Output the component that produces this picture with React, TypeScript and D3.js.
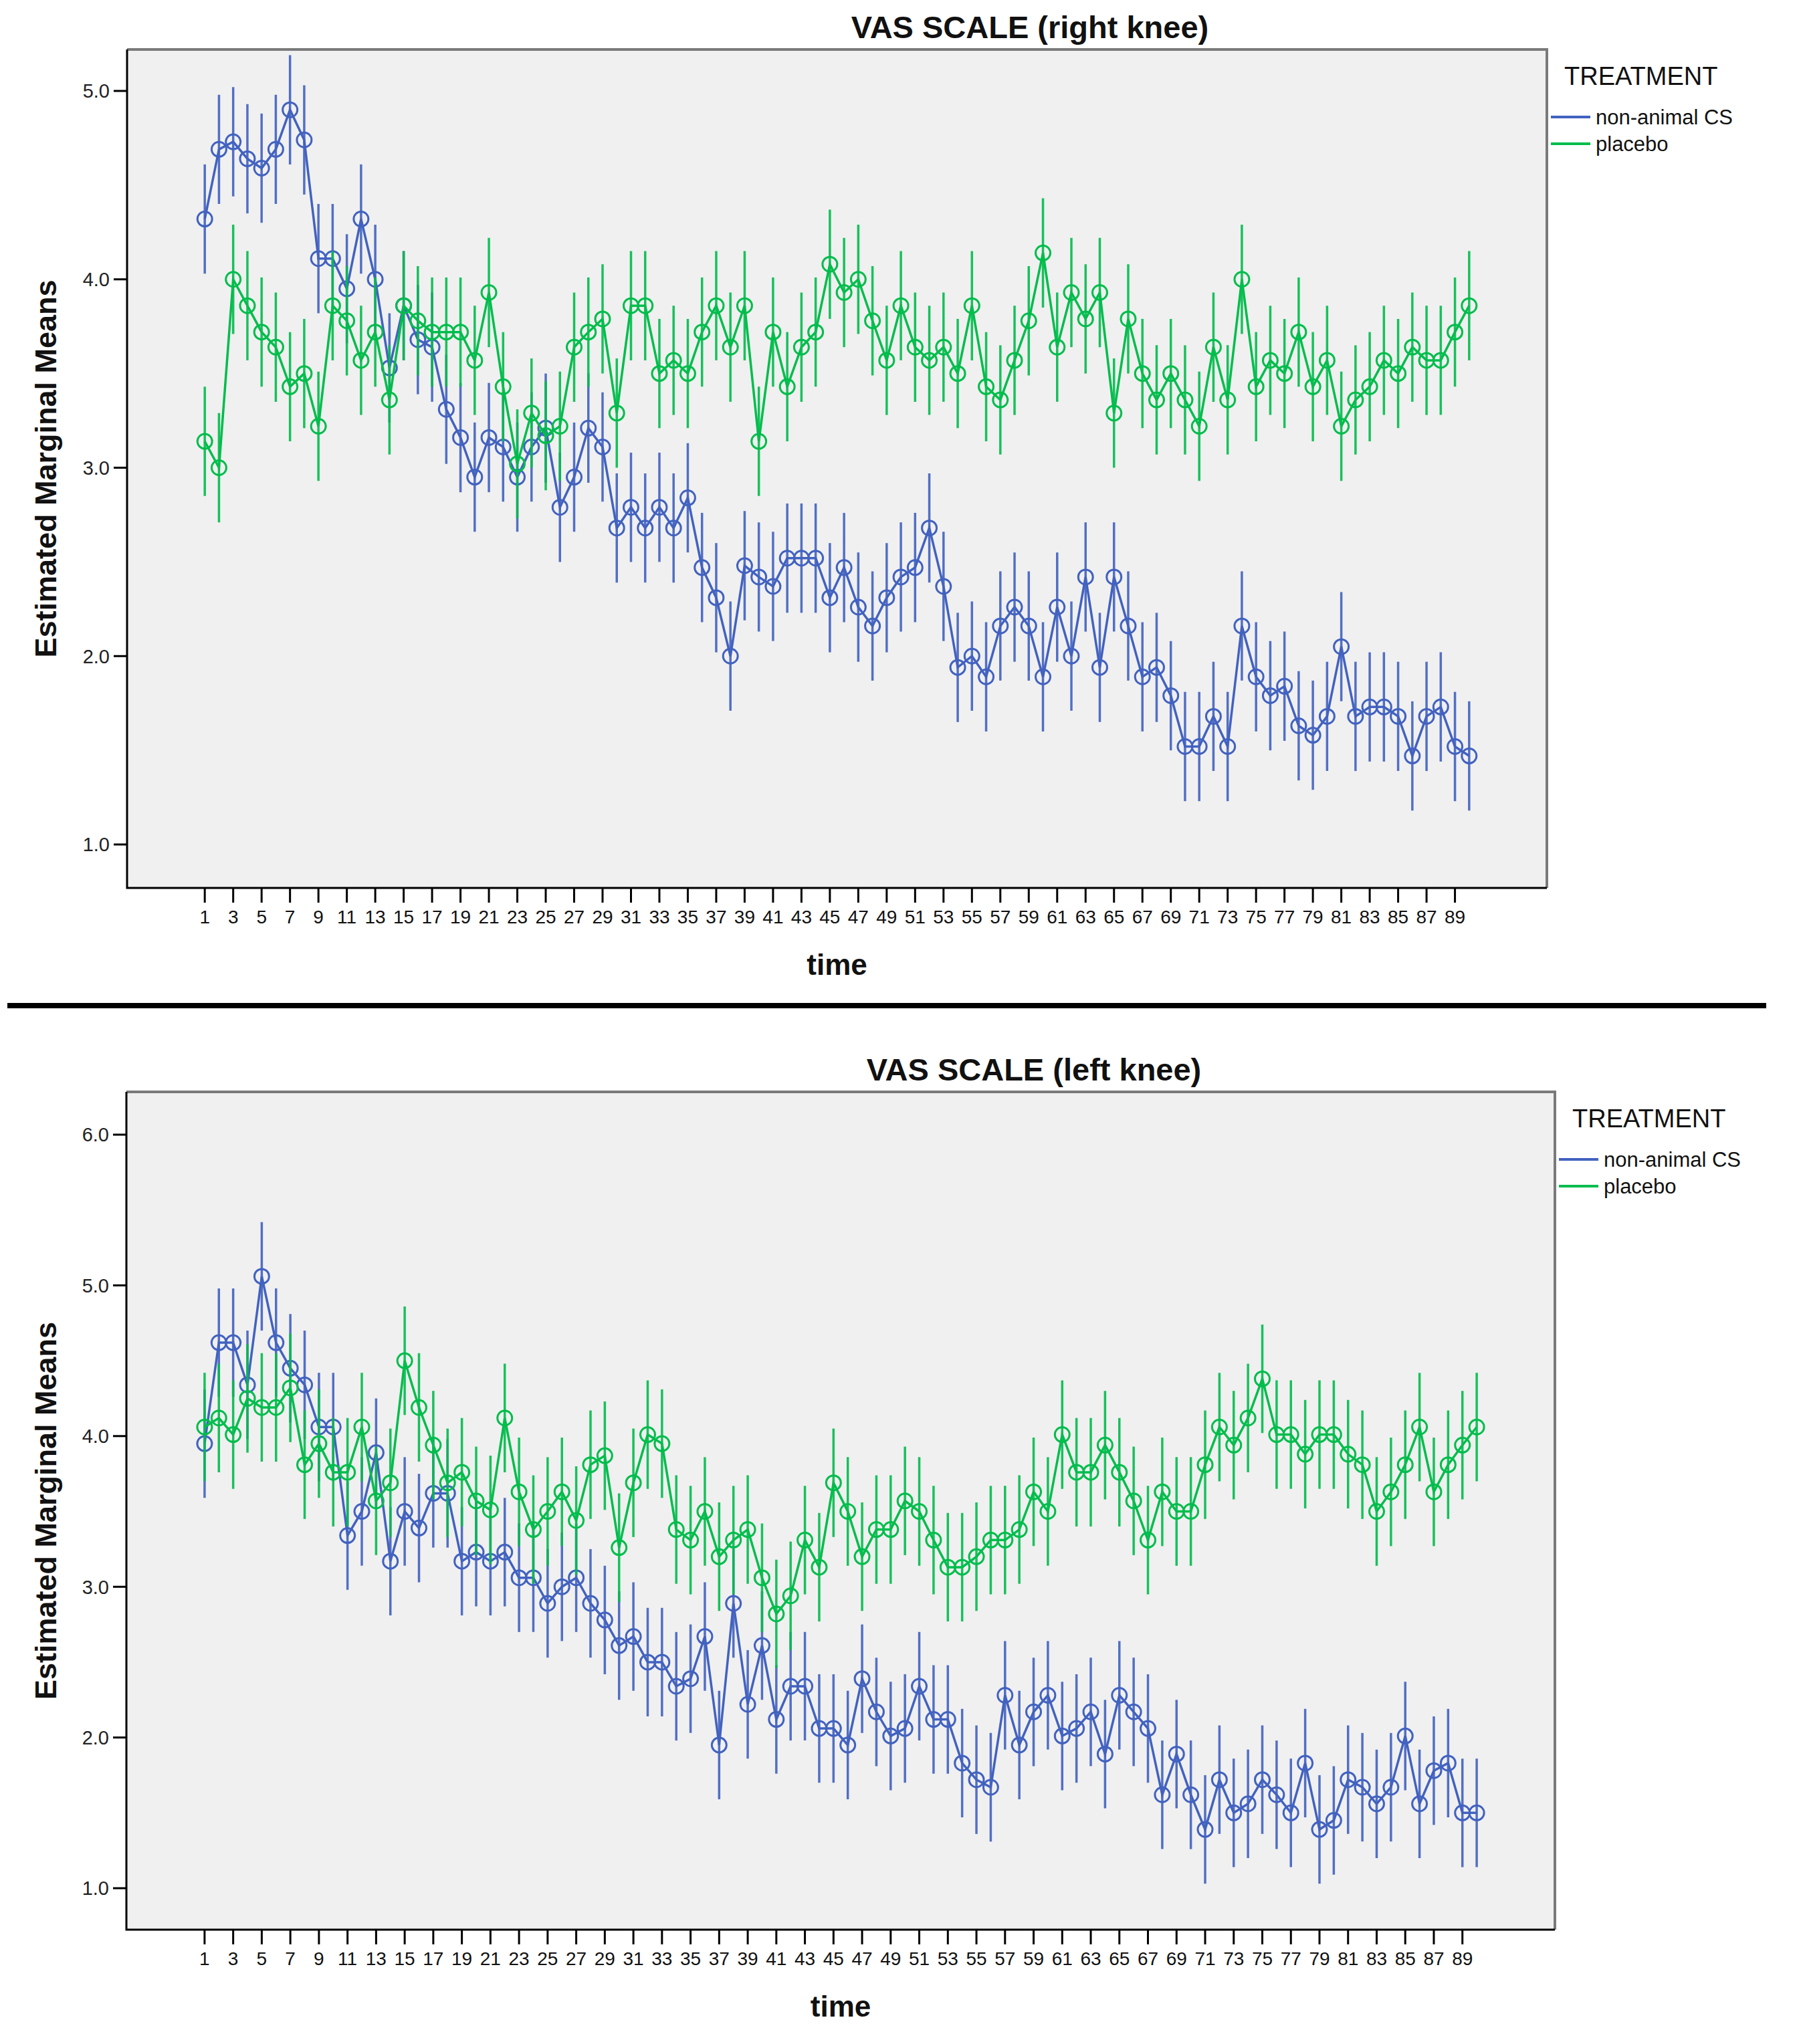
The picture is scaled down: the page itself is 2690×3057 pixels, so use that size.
import React, { useEffect, useRef } from 'react';
import * as d3 from 'd3';

// time categories 1..90, odd ones are labelled on the axis
const timePoints = d3.range(1, 91);
const xTickLabels = timePoints.filter(t => t % 2 === 1);
const treatments = ['non-animal CS', 'placebo'];

// VAS right knee, estimated marginal means
const rightKneeCS = [
  4.32, 4.69, 4.73, 4.64, 4.59, 4.69, 4.90, 4.74, 4.11, 4.11,
  3.95, 4.32, 4.00, 3.53, 3.86, 3.68, 3.64, 3.31, 3.16, 2.95,
  3.16, 3.11, 2.95, 3.11, 3.21, 2.79, 2.95, 3.21, 3.11, 2.68,
  2.79, 2.68, 2.79, 2.68, 2.84, 2.47, 2.31, 2.00, 2.48, 2.42,
  2.37, 2.52, 2.52, 2.52, 2.31, 2.47, 2.26, 2.16, 2.31, 2.42,
  2.47, 2.68, 2.37, 1.94, 2.00, 1.89, 2.16, 2.26, 2.16, 1.89,
  2.26, 2.00, 2.42, 1.94, 2.42, 2.16, 1.89, 1.94, 1.79, 1.52,
  1.52, 1.68, 1.52, 2.16, 1.89, 1.79, 1.84, 1.63, 1.58, 1.68,
  2.05, 1.68, 1.73, 1.73, 1.68, 1.47, 1.68, 1.73, 1.52, 1.47,
];
const rightKneePlacebo = [
  3.14, 3.00, 4.00, 3.86, 3.72, 3.64, 3.43, 3.50, 3.22, 3.86,
  3.78, 3.57, 3.72, 3.36, 3.86, 3.78, 3.72, 3.72, 3.72, 3.57,
  3.93, 3.43, 3.02, 3.29, 3.17, 3.22, 3.64, 3.72, 3.79, 3.29,
  3.86, 3.86, 3.50, 3.57, 3.50, 3.72, 3.86, 3.64, 3.86, 3.14,
  3.72, 3.43, 3.64, 3.72, 4.08, 3.93, 4.00, 3.78, 3.57, 3.86,
  3.64, 3.57, 3.64, 3.50, 3.86, 3.43, 3.36, 3.57, 3.78, 4.14,
  3.64, 3.93, 3.79, 3.93, 3.29, 3.79, 3.50, 3.36, 3.50, 3.36,
  3.22, 3.64, 3.36, 4.00, 3.43, 3.57, 3.50, 3.72, 3.43, 3.57,
  3.22, 3.36, 3.43, 3.57, 3.50, 3.64, 3.57, 3.57, 3.72, 3.86,
];

// VAS left knee, estimated marginal means
const leftKneeCS = [
  3.95, 4.62, 4.62, 4.34, 5.06, 4.62, 4.45, 4.34, 4.06, 4.06,
  3.34, 3.50, 3.89, 3.17, 3.50, 3.39, 3.62, 3.62, 3.17, 3.23,
  3.17, 3.23, 3.06, 3.06, 2.89, 3.00, 3.06, 2.89, 2.78, 2.61,
  2.67, 2.50, 2.50, 2.34, 2.39, 2.67, 1.95, 2.89, 2.22, 2.61,
  2.12, 2.34, 2.34, 2.06, 2.06, 1.95, 2.39, 2.17, 2.01, 2.06,
  2.34, 2.12, 2.12, 1.83, 1.72, 1.67, 2.28, 1.95, 2.17, 2.28,
  2.01, 2.06, 2.17, 1.89, 2.28, 2.17, 2.06, 1.62, 1.89, 1.62,
  1.39, 1.72, 1.50, 1.56, 1.72, 1.62, 1.50, 1.83, 1.39, 1.45,
  1.72, 1.67, 1.56, 1.67, 2.01, 1.56, 1.78, 1.83, 1.50, 1.50,
];
const leftKneePlacebo = [
  4.06, 4.12, 4.01, 4.25, 4.19, 4.19, 4.32, 3.81, 3.95, 3.76,
  3.76, 4.06, 3.57, 3.69, 4.50, 4.19, 3.94, 3.69, 3.76, 3.57,
  3.51, 4.12, 3.63, 3.38, 3.50, 3.63, 3.44, 3.81, 3.87, 3.26,
  3.69, 4.01, 3.95, 3.38, 3.31, 3.50, 3.20, 3.31, 3.38, 3.06,
  2.82, 2.94, 3.31, 3.13, 3.69, 3.50, 3.20, 3.38, 3.38, 3.57,
  3.50, 3.31, 3.13, 3.13, 3.20, 3.31, 3.31, 3.38, 3.63, 3.50,
  4.01, 3.76, 3.76, 3.94, 3.76, 3.57, 3.31, 3.63, 3.50, 3.50,
  3.81, 4.06, 3.94, 4.12, 4.38, 4.01, 4.01, 3.88, 4.01, 4.01,
  3.88, 3.81, 3.50, 3.63, 3.81, 4.06, 3.63, 3.81, 3.94, 4.06,
];

const rightKneeTicks = [1, 2, 3, 4, 5];
const leftKneeTicks = [1, 2, 3, 4, 5, 6];
// half width of the error bars (95% CI)
const rightKneeCI = 0.29;
const leftKneeCI = 0.36;

const BLUE = '#4262c0';
const GREEN = '#00bd4c';
const FONT = '"Liberation Sans", Arial, sans-serif';

interface PanelConfig {
  title: string;
  titleX: number;
  series: number[][];
  ci: number;
  ticks: number[];
  left: number;
  top: number;
  right: number;
  bottom: number;
  yLow: number; // pixel of lowest tick
  yHigh: number; // pixel of highest tick
}

const drawPanel = (
  svg: d3.Selection<SVGSVGElement, unknown, null, undefined>,
  cfg: PanelConfig
) => {
  const { left, top, right, bottom } = cfg;
  const g = svg.append('g');
  const colors = [BLUE, GREEN];

  const x = d3.scalePoint<number>().domain(timePoints).range([left, right]).padding(5.47);
  const y = d3
    .scaleLinear()
    .domain([cfg.ticks[0], cfg.ticks[cfg.ticks.length - 1]])
    .range([cfg.yLow, cfg.yHigh]);

  // plot background
  g.append('rect')
    .attr('x', left)
    .attr('y', top)
    .attr('width', right - left)
    .attr('height', bottom - top)
    .attr('fill', '#f0f0f0');

  // frame: grey top/right, black left/bottom
  g.append('path')
    .attr('d', `M${left},${top}H${right}V${bottom}`)
    .attr('fill', 'none')
    .attr('stroke', '#7a7a7a')
    .attr('stroke-width', 4);
  g.append('path')
    .attr('d', `M${left},${top}V${bottom}H${right}`)
    .attr('fill', 'none')
    .attr('stroke', '#000')
    .attr('stroke-width', 3);

  // Y ticks
  cfg.ticks.forEach(t => {
    g.append('line')
      .attr('x1', left - 20)
      .attr('x2', left)
      .attr('y1', y(t))
      .attr('y2', y(t))
      .attr('stroke', '#000')
      .attr('stroke-width', 3);
    g.append('text')
      .attr('x', left - 26)
      .attr('y', y(t))
      .attr('dy', '0.36em')
      .attr('text-anchor', 'end')
      .attr('font-family', FONT)
      .attr('font-size', 29)
      .attr('fill', '#222')
      .text(t.toFixed(1));
  });

  // X ticks
  xTickLabels.forEach(t => {
    const px = x(t) as number;
    g.append('line')
      .attr('x1', px)
      .attr('x2', px)
      .attr('y1', bottom)
      .attr('y2', bottom + 22)
      .attr('stroke', '#000')
      .attr('stroke-width', 3);
    g.append('text')
      .attr('x', px)
      .attr('y', bottom + 43)
      .attr('dy', '0.36em')
      .attr('text-anchor', 'middle')
      .attr('font-family', FONT)
      .attr('font-size', 28)
      .attr('fill', '#111')
      .text(t);
  });

  // series: error bars, line, open circles
  cfg.series.forEach((values, si) => {
    const color = colors[si];
    g.append('g')
      .selectAll('line')
      .data(values)
      .enter()
      .append('line')
      .attr('x1', (d, i) => x(timePoints[i]) as number)
      .attr('x2', (d, i) => x(timePoints[i]) as number)
      .attr('y1', d => y(d - cfg.ci))
      .attr('y2', d => y(d + cfg.ci))
      .attr('stroke', color)
      .attr('stroke-width', 3.5)
      .attr('opacity', 0.9);

    const line = d3
      .line<number>()
      .x((d, i) => x(timePoints[i]) as number)
      .y(d => y(d));

    g.append('path')
      .datum(values)
      .attr('fill', 'none')
      .attr('stroke', color)
      .attr('stroke-width', 3.5)
      .attr('d', line);

    g.append('g')
      .selectAll('circle')
      .data(values)
      .enter()
      .append('circle')
      .attr('cx', (d, i) => x(timePoints[i]) as number)
      .attr('cy', d => y(d))
      .attr('r', 11)
      .attr('fill', 'none')
      .attr('stroke', color)
      .attr('stroke-width', 3);
  });

  // Title
  g.append('text')
    .attr('x', cfg.titleX)
    .attr('y', top - 34)
    .attr('dy', '0.36em')
    .attr('text-anchor', 'middle')
    .attr('font-family', FONT)
    .attr('font-weight', 'bold')
    .attr('font-size', 47)
    .attr('fill', '#111')
    .text(cfg.title);

  // Axis labels
  g.append('text')
    .attr('transform', `translate(68,${(top + bottom) / 2}) rotate(-90)`)
    .attr('dy', '0.36em')
    .attr('text-anchor', 'middle')
    .attr('font-family', FONT)
    .attr('font-weight', 'bold')
    .attr('font-size', 45)
    .attr('fill', '#111')
    .text('Estimated Marginal Means');

  g.append('text')
    .attr('x', (left + right) / 2)
    .attr('y', bottom + 114)
    .attr('dy', '0.36em')
    .attr('text-anchor', 'middle')
    .attr('font-family', FONT)
    .attr('font-weight', 'bold')
    .attr('font-size', 44)
    .attr('fill', '#111')
    .text('time');

  // Legend
  const legend = g.append('g').attr('transform', `translate(${right},${top})`);
  legend
    .append('text')
    .attr('x', 26)
    .attr('y', 39)
    .attr('dy', '0.36em')
    .attr('font-family', FONT)
    .attr('font-size', 38)
    .attr('fill', '#111')
    .text('TREATMENT');
  treatments.forEach((name, i) => {
    const ly = 101 + i * 40;
    legend
      .append('line')
      .attr('x1', 6)
      .attr('x2', 65)
      .attr('y1', ly)
      .attr('y2', ly)
      .attr('stroke', colors[i])
      .attr('stroke-width', 4);
    legend
      .append('text')
      .attr('x', 73)
      .attr('y', ly)
      .attr('dy', '0.36em')
      .attr('font-family', FONT)
      .attr('font-size', 31)
      .attr('fill', '#111')
      .text(name);
  });
};

const App: React.FC = () => {
  const svgRef = useRef<SVGSVGElement>(null);

  useEffect(() => {
    if (!svgRef.current) return;
    const svg = d3.select(svgRef.current);
    svg.selectAll('*').remove();

    drawPanel(svg, {
      title: 'VAS SCALE (right knee)',
      titleX: 1540,
      series: [rightKneeCS, rightKneePlacebo],
      ci: rightKneeCI,
      ticks: rightKneeTicks,
      left: 190,
      top: 74,
      right: 2313,
      bottom: 1328,
      yLow: 1263,
      yHigh: 136,
    });

    drawPanel(svg, {
      title: 'VAS SCALE (left knee)',
      titleX: 1546,
      series: [leftKneeCS, leftKneePlacebo],
      ci: leftKneeCI,
      ticks: leftKneeTicks,
      left: 189,
      top: 1633,
      right: 2325,
      bottom: 2886,
      yLow: 2824,
      yHigh: 1697,
    });

    // separator between the two charts
    svg
      .append('line')
      .attr('x1', 11)
      .attr('x2', 2641)
      .attr('y1', 1504)
      .attr('y2', 1504)
      .attr('stroke', '#000')
      .attr('stroke-width', 8);
  }, []);

  return (
    <svg
      ref={svgRef}
      width={2690}
      height={3057}
      style={{ position: 'absolute', left: 0, top: 0, background: '#fff' }}
    />
  );
};

export default App;
